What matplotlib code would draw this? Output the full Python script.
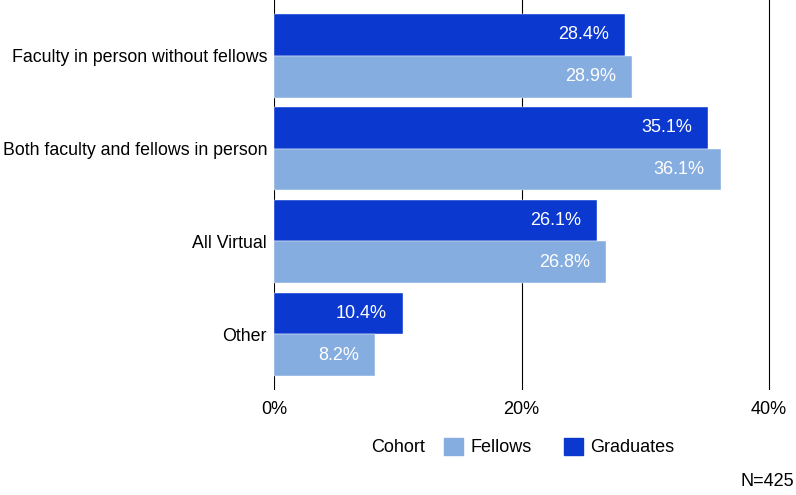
import matplotlib
matplotlib.use("Agg")
import matplotlib.pyplot as plt
import matplotlib.patches as mpatches
import numpy as np

plt.rcParams['font.family'] = ['Liberation Sans', 'DejaVu Sans']

# %% DATA
categories = ["Faculty in person without fellows", "Both faculty and fellows in person",
              "All Virtual", "Other"]
graduates = [28.4, 35.1, 26.1, 10.4]
fellows = [28.9, 36.1, 26.8, 8.2]
x_ticks = [0, 20, 40]
x_tick_labels = ["0%", "20%", "40%"]

dark_blue = "#0b38cf"
light_blue = "#86ade0"
fs = 13

# %% PLOT
fig = plt.figure(figsize=(7.96, 4.95), dpi=100)
ax = fig.add_axes([274 / 796, 1 - 390 / 495, 1 - 274 / 796, 390 / 495])

y = np.arange(len(categories))
h = 0.45
ax.barh(y - h / 2, graduates, height=h, color=dark_blue, edgecolor="white", linewidth=0.3, zorder=3)
ax.barh(y + h / 2, fellows, height=h, color=light_blue, edgecolor="white", linewidth=0.3, zorder=3)

for yi, v in zip(y, graduates):
    ax.annotate(f"{v:.1f}%", (v, yi - h / 2), xytext=(-11.5, 0), textcoords="offset points",
                ha="right", va="center", color="white", fontsize=fs, zorder=4)
for yi, v in zip(y, fellows):
    ax.annotate(f"{v:.1f}%", (v, yi + h / 2), xytext=(-11.5, 0), textcoords="offset points",
                ha="right", va="center", color="white", fontsize=fs, zorder=4)

ax.set_xlim(0, 40 * (796 - 274) / (769 - 274))
ax.set_ylim(len(categories) - 0.4, -0.6)
ax.set_yticks(y)
ax.set_yticklabels(categories, fontsize=12.8)
ax.set_xticks(x_ticks)
ax.set_xticklabels(x_tick_labels, fontsize=fs)
ax.tick_params(axis="both", length=0)
ax.tick_params(axis="x", pad=8)
ax.tick_params(axis="y", pad=5)
ax.grid(axis="x", color="black", linewidth=0.8, zorder=1)
for s in ax.spines.values():
    s.set_visible(False)

# legend
fig.text(371 / 796, 1 - 447 / 495, "Cohort", fontsize=fs, ha="left", va="center")
handles = [mpatches.Patch(color=light_blue, label="Fellows"),
           mpatches.Patch(color=dark_blue, label="Graduates")]
fig.legend(handles=handles, ncol=2, loc="center left", bbox_to_anchor=(444 / 796, 1 - 447 / 495),
           frameon=False, fontsize=fs, borderpad=0, handlelength=1.05, handleheight=1.1,
           handletextpad=0.4, columnspacing=1.8, borderaxespad=0)

fig.text(794 / 796, 1 - 481 / 495, "N=425", fontsize=fs, ha="right", va="center")

fig.savefig("out.png", dpi=100)
